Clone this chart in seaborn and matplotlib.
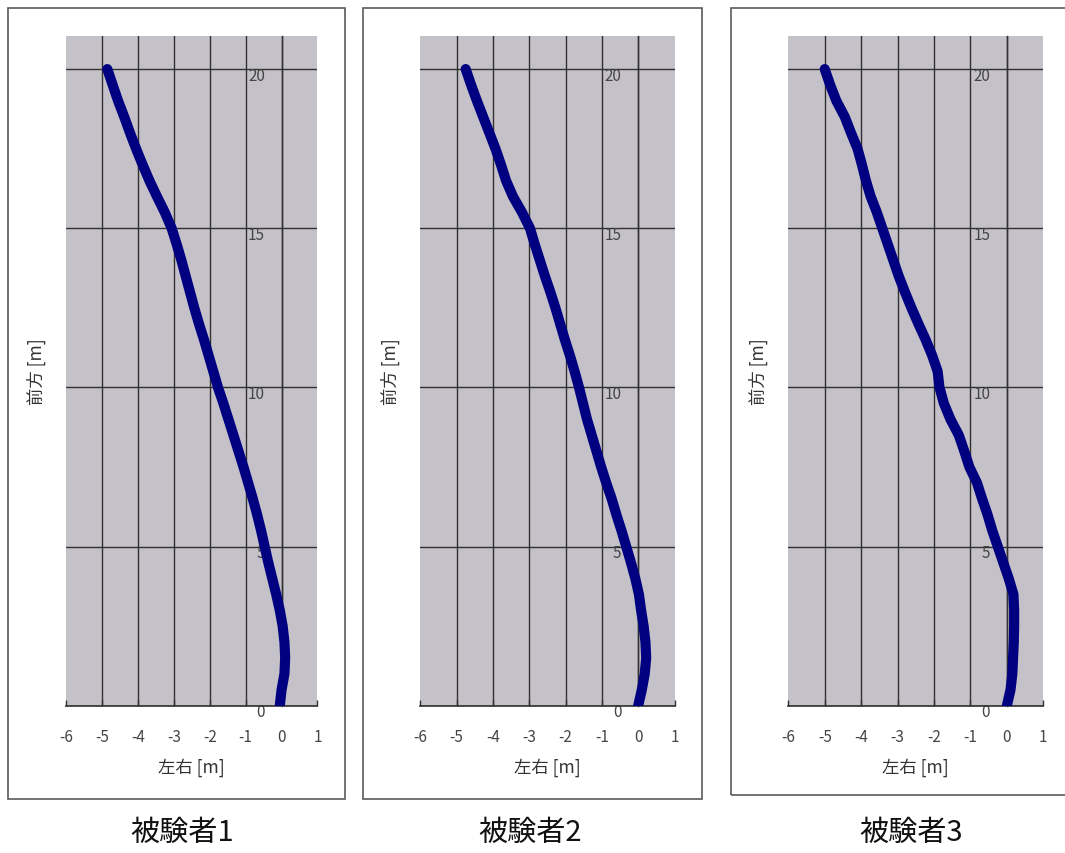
import numpy as np
import pandas as pd
import matplotlib
matplotlib.use("Agg")
import matplotlib.pyplot as plt
import matplotlib.transforms as mtransforms
from matplotlib.patches import Rectangle
import seaborn as sns

sns.set_theme(style="white")
plt.rcParams["font.family"] = ["Noto Sans CJK JP", "DejaVu Sans"]
plt.rcParams["axes.unicode_minus"] = False

# ---------------- data ----------------
forward = [0, 0.5, 1, 1.5, 2, 2.5, 3, 3.5, 4, 4.5, 5, 5.5, 6, 6.5, 7, 7.5, 8, 8.5, 9, 9.5,
           10, 10.5, 11, 11.5, 12, 12.5, 13, 13.5, 14, 14.5, 15, 15.5, 16, 16.5, 17, 17.5,
           18, 18.5, 19, 19.5, 20]

lateral_s1 = [-0.05, 0.0, 0.08, 0.10, 0.08, 0.03, -0.05, -0.15, -0.26, -0.37, -0.47, -0.57,
              -0.68, -0.80, -0.93, -1.06, -1.20, -1.34, -1.48, -1.62, -1.77, -1.90, -2.03,
              -2.16, -2.30, -2.43, -2.55, -2.67, -2.79, -2.92, -3.06, -3.25, -3.47, -3.68,
              -3.87, -4.05, -4.22, -4.38, -4.55, -4.70, -4.85]

lateral_s2 = [0.0, 0.10, 0.18, 0.22, 0.20, 0.15, 0.08, 0.02, -0.08, -0.20, -0.33, -0.46,
              -0.60, -0.73, -0.88, -1.02, -1.15, -1.28, -1.41, -1.52, -1.63, -1.75, -1.88,
              -2.02, -2.15, -2.28, -2.42, -2.57, -2.71, -2.85, -2.98, -3.20, -3.45, -3.64,
              -3.78, -3.93, -4.10, -4.27, -4.44, -4.60, -4.75]

lateral_s3 = [0.0, 0.10, 0.15, 0.17, 0.19, 0.20, 0.20, 0.18, 0.05, -0.10, -0.25, -0.40,
              -0.53, -0.68, -0.82, -1.03, -1.17, -1.32, -1.55, -1.73, -1.85, -1.90, -2.05,
              -2.23, -2.43, -2.62, -2.80, -2.97, -3.12, -3.27, -3.42, -3.57, -3.74, -3.87,
              -3.98, -4.10, -4.28, -4.45, -4.68, -4.85, -5.00]

subjects = ["被験者1", "被験者2", "被験者3"]
x_ticks = [-6, -5, -4, -3, -2, -1, 0, 1]
y_ticks = [0, 5, 10, 15, 20]
x_label = "左右 [m]"
y_label = "前方 [m]"

series = [lateral_s1, lateral_s2, lateral_s3]

# ---------------- layout ----------------
W, H = 1065, 854
fig = plt.figure(figsize=(W / 100, H / 100), dpi=100)
fig.patch.set_facecolor("white")

axes_px = [(66, 317.5), (420.3, 674.5), (788.3, 1043.3)]   # left/right of plot areas
frames_px = [(8.3, 9.0, 345.0, 800.0), (363.3, 8.7, 701.7, 800.0), (731.0, 9.3, 1080.0, 796.0)]
caption_px = [(182, 833), (530, 833), (911, 833)]
ax_top, ax_bottom = 37.3, 706.7

face = "#C4C1C8"
gridc = "#303030"

for i, (name, lat) in enumerate(zip(subjects, series)):
    fx0, fy0, fx1, fy1 = frames_px[i]
    fig.add_artist(Rectangle((fx0 / W, 1 - fy1 / H), (fx1 - fx0) / W, (fy1 - fy0) / H,
                             transform=fig.transFigure, fill=False,
                             edgecolor="#5a5a5a", linewidth=1.2))

    l, r = axes_px[i]
    ax = fig.add_axes([l / W, 1 - ax_bottom / H, (r - l) / W, (ax_bottom - ax_top) / H])
    ax.set_facecolor(face)

    df = pd.DataFrame({"lateral": lat, "forward": forward})
    sns.lineplot(data=df, x="lateral", y="forward", sort=False, estimator=None,
                 color="#000080", linewidth=7.3, ax=ax, zorder=3,
                 solid_capstyle="round", solid_joinstyle="round")

    ax.set_xlim(-6, 1)
    ax.set_ylim(0, 21.03)
    ax.set_xticks(x_ticks)
    ax.set_yticks(y_ticks)
    ax.set_xticklabels([str(t) for t in x_ticks])
    ax.set_yticklabels([str(t) for t in y_ticks])

    ax.grid(True, color=gridc, linewidth=1.0)
    ax.set_axisbelow(True)
    xt = ax.xaxis.get_major_ticks()
    xt[0].gridline.set_visible(False)
    xt[-1].gridline.set_visible(False)

    for s in ("top", "right"):
        ax.spines[s].set_visible(False)
    ax.spines["left"].set_position(("data", 0))
    ax.spines["left"].set_color(gridc)
    ax.spines["left"].set_linewidth(1.0)
    ax.spines["bottom"].set_color(gridc)
    ax.spines["bottom"].set_linewidth(1.2)

    ax.tick_params(axis="x", direction="in", length=4, width=1, color=gridc,
                   pad=16, labelsize=11, labelcolor="#454545", bottom=True)
    ax.tick_params(axis="y", length=0, pad=12, labelsize=11, labelcolor="#454545")
    off = mtransforms.ScaledTranslation(0, -4 / 100, fig.dpi_scale_trans)
    for lab in ax.get_yticklabels():
        lab.set_transform(lab.get_transform() + off)

    ax.set_xlabel(x_label, fontsize=12.5, color="#333333")
    ax.xaxis.set_label_coords(0.5, -0.0766)
    ax.set_ylabel(y_label, fontsize=12.5, color="#333333")
    ax.yaxis.set_label_coords(-0.08, 0.5)

    cx, cy = caption_px[i]
    fig.text(cx / W, 1 - cy / H, name, ha="center", va="center",
             fontsize=21, color="#111111")

fig.savefig("out.png", dpi=100)
